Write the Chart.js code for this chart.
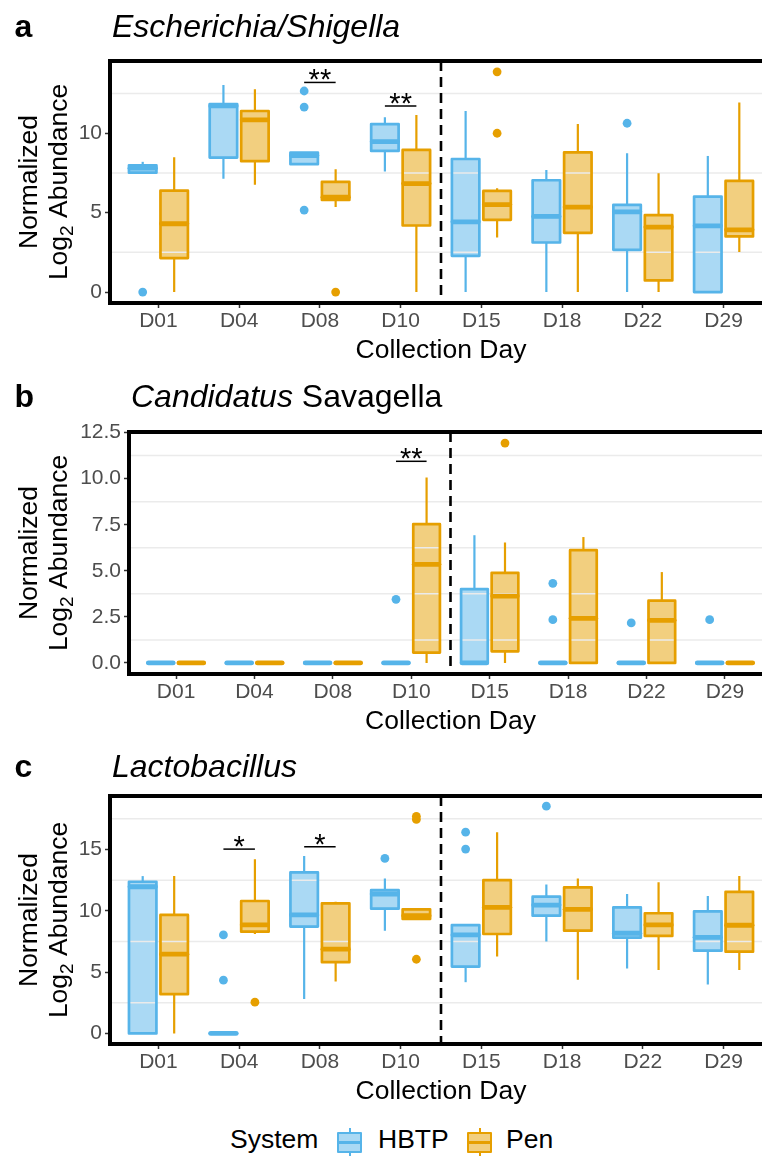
<!DOCTYPE html>
<html>
<head>
<meta charset="utf-8">
<script src="https://cdn.jsdelivr.net/npm/chart.js@4.4.1/dist/chart.umd.min.js"></script>
<style>
  body { margin: 0; background: #fff; overflow: hidden; }
  #page { position: relative; width: 762px; height: 1156px; overflow: hidden;
          font-family: "Liberation Sans", Arial, Helvetica, sans-serif; }
  #page canvas { position: absolute; left: 0; }
  .lab { position: absolute; top: 1126px; font-size: 26.5px; line-height: 26px; color: #000; white-space: nowrap; }
  .key { position: absolute; top: 1128px; width: 26px; height: 28.5px; }
  .key .whisker { position: absolute; left: 12px; top: 0; width: 2px; height: 28.5px; }
  .key .box { position: absolute; left: 0; top: 3.5px; width: 21px; height: 17px; border: 2.5px solid; border-radius: 1px; }
</style>
</head>
<body>
<div id="page">
  <canvas id="chartA" width="800" height="370" style="top:0px"></canvas>
  <canvas id="chartB" width="800" height="370" style="top:370px"></canvas>
  <canvas id="chartC" width="800" height="370" style="top:740px"></canvas>
  <div id="legend"></div>
</div>
<script>
// categories and series
const days = ["D01", "D04", "D08", "D10", "D15", "D18", "D22", "D29"];
const systems = ["HBTP", "Pen"];

// each box: [lower whisker, Q1, median, Q3, upper whisker], one per day
// a: Escherichia/Shigella
const escHBTP = [
  [7.52, 7.52, 7.8, 7.98, 8.2],
  [7.13, 8.47, 11.72, 11.84, 13.04],
  [8.05, 8.05, 8.6, 8.78, 8.78],
  [7.59, 8.89, 9.47, 10.58, 11.0],
  [0, 2.28, 4.42, 8.38, 11.4],
  [0, 3.12, 4.76, 7.04, 7.69],
  [0, 2.66, 5.05, 5.49, 8.74],
  [0, 0, 4.17, 6.01, 8.57]
];
const escPen = [
  [0, 2.14, 4.3, 6.39, 8.49],
  [6.75, 8.24, 10.84, 11.4, 12.77],
  [5.35, 5.8, 5.97, 6.94, 7.74],
  [0, 4.19, 6.83, 8.95, 11.15],
  [3.43, 4.55, 5.51, 6.37, 6.54],
  [0, 3.73, 5.35, 8.8, 10.58],
  [0, 0.73, 4.09, 4.84, 7.48],
  [2.52, 3.5, 3.92, 7.0, 11.93]
];
const escHBTPOut = [[0], [], [12.66, 11.65, 5.16], [], [], [], [10.63], []];
const escPenOut = [[], [], [0], [], [13.87, 10.0], [], [], []];
const escTicks = [0, 5, 10];
const escSigDays = ["D08", "D10"];
const escSigY = [13.2, 11.72];
const escSigText = ["**", "**"];

// b: Candidatus Savagella
const savHBTP = [
  [0, 0, 0, 0, 0],
  [0, 0, 0, 0, 0],
  [0, 0, 0, 0, 0],
  [0, 0, 0, 0, 0],
  [0, 0, 0, 4.01, 6.93],
  [0, 0, 0, 0, 0],
  [0, 0, 0, 0, 0],
  [0, 0, 0, 0, 0]
];
const savPen = [
  [0, 0, 0, 0, 0],
  [0, 0, 0, 0, 0],
  [0, 0, 0, 0, 0],
  [0, 0.56, 5.35, 7.53, 10.06],
  [0, 0.63, 3.63, 4.89, 6.54],
  [0, 0, 2.42, 6.12, 6.83],
  [0, 0, 2.31, 3.38, 4.93],
  [0, 0, 0, 0, 0]
];
const savHBTPOut = [[], [], [], [3.45], [], [4.32, 2.35], [2.17], [2.35]];
const savPenOut = [[], [], [], [], [11.93], [], [], []];
const savTicks = [0, 2.5, 5, 7.5, 10, 12.5];
const savSigDays = ["D10"];
const savSigY = [10.94];
const savSigText = ["**"];

// c: Lactobacillus
const lacHBTP = [
  [0, 0, 11.96, 12.37, 12.83],
  [0, 0, 0, 0, 0],
  [2.8, 8.71, 9.66, 13.13, 14.46],
  [8.38, 10.17, 11.37, 11.69, 12.64],
  [4.18, 5.45, 8.03, 8.84, 8.84],
  [7.49, 9.6, 10.47, 11.15, 12.15],
  [5.29, 7.81, 8.17, 10.28, 11.37],
  [3.99, 6.75, 7.84, 9.96, 11.2]
];
const lacPen = [
  [0, 3.2, 6.46, 9.66, 12.83],
  [8.11, 8.3, 8.85, 10.8, 14.21],
  [4.23, 5.81, 6.87, 10.61, 10.74],
  [9.33, 9.33, 9.6, 10.12, 10.12],
  [6.27, 8.11, 10.28, 12.5, 16.41],
  [4.37, 8.38, 10.12, 11.91, 12.64],
  [5.18, 7.95, 8.85, 9.8, 12.32],
  [5.18, 6.67, 8.82, 11.55, 12.83]
];
const lacHBTPOut = [[], [8.03, 4.34], [], [14.27], [16.41, 15.03], [18.53], [], []];
const lacPenOut = [[], [2.55], [], [17.45, 17.7, 6.05], [], [], [], []];
const lacTicks = [0, 5, 10, 15];
const lacSigDays = ["D04", "D08"];
const lacSigY = [15.03, 15.22];
const lacSigText = ["*", "*"];

// styling
const FONT = '"Liberation Sans", Arial, Helvetica, sans-serif';
const COLORS = { HBTP: "#56B4E9", Pen: "#E69F00" };
const FILLS = { HBTP: "rgba(86,180,233,0.5)", Pen: "rgba(230,159,0,0.5)" };
const KEY_FILLS = { HBTP: "#aad9f4", Pen: "#f2cf80" };
const SHIFT = 0.195;  // dodge offset of each box from the day
const HALF = 0.17;    // half box width, in x units

const panels = [
  { id: "chartA", tag: "a", title: [["Escherichia/Shigella", "italic"]], titleX: 112,
    boxes: [escHBTP, escPen], outliers: [escHBTPOut, escPenOut], ticks: escTicks, decimals: 0,
    yMin: -0.69, yMax: 14.55, sigDays: escSigDays, sigY: escSigY, sigText: escSigText,
    top: 61, axisH: 67, left: 110 },
  { id: "chartB", tag: "b", title: [["Candidatus", "italic"], [" Savagella", "normal"]], titleX: 131,
    boxes: [savHBTP, savPen], outliers: [savHBTPOut, savPenOut], ticks: savTicks, decimals: 1,
    yMin: -0.6, yMax: 12.53, sigDays: savSigDays, sigY: savSigY, sigText: savSigText,
    top: 62, axisH: 66, left: 129 },
  { id: "chartC", tag: "c", title: [["Lactobacillus", "italic"]], titleX: 112,
    boxes: [lacHBTP, lacPen], outliers: [lacHBTPOut, lacPenOut], ticks: lacTicks, decimals: 0,
    yMin: -0.86, yMax: 19.36, sigDays: lacSigDays, sigY: lacSigY, sigText: lacSigText,
    top: 56, axisH: 66, left: 110 }
];

// outlier points at the dodged x position of their box
function toPoints(out, shift) {
  const pts = [];
  out.forEach((vals, i) => vals.forEach(v => pts.push({ x: i + 1 + shift, y: v })));
  return pts;
}

// draws boxes, whiskers, grid, divider, significance bars, border and titles
function panelPlugin(panel) {
  return {
    id: "panel",
    beforeDatasetsDraw(chart) {
      const { ctx, chartArea: area, scales: { x, y } } = chart;
      ctx.save();
      const geo = [];
      chart.data.datasets.forEach(ds => ds.boxes.forEach((b, i) => {
        const c = i + 1 + ds.shift;
        geo.push({
          ds, b,
          cx: x.getPixelForValue(c),
          x0: x.getPixelForValue(c - HALF),
          x1: x.getPixelForValue(c + HALF),
          top: y.getPixelForValue(b[3]),
          bot: y.getPixelForValue(b[1])
        });
      }));
      // fills
      geo.forEach(g => {
        ctx.fillStyle = g.ds.fill;
        ctx.fillRect(g.x0, g.top, g.x1 - g.x0, g.bot - g.top);
      });
      // grid lines halfway between the ticks, on top of the fills
      const t = panel.ticks;
      const step = t[1] - t[0];
      ctx.strokeStyle = "#ebebeb";
      ctx.lineWidth = 1.5;
      t.forEach(v => {
        const gv = v + step / 2;
        if (gv > y.max) return;
        const py = y.getPixelForValue(gv);
        ctx.beginPath();
        ctx.moveTo(area.left, py);
        ctx.lineTo(area.right, py);
        ctx.stroke();
      });
      // whiskers, outlines, medians
      geo.forEach(g => {
        ctx.strokeStyle = g.ds.color;
        ctx.lineWidth = 2.2;
        ctx.lineCap = "butt";
        ctx.beginPath();
        ctx.moveTo(g.cx, y.getPixelForValue(g.b[4]));
        ctx.lineTo(g.cx, g.top);
        ctx.moveTo(g.cx, g.bot);
        ctx.lineTo(g.cx, y.getPixelForValue(g.b[0]));
        ctx.stroke();
        ctx.lineWidth = 2.7;
        ctx.lineJoin = "round";
        ctx.strokeRect(g.x0, g.top, g.x1 - g.x0, g.bot - g.top);
        const my = y.getPixelForValue(g.b[2]);
        ctx.lineWidth = 4.8;
        ctx.lineCap = "round";
        ctx.beginPath();
        ctx.moveTo(g.x0 + 1, my);
        ctx.lineTo(g.x1 - 1, my);
        ctx.stroke();
      });
      ctx.restore();
    },
    afterDatasetsDraw(chart) {
      const { ctx, chartArea: area, scales: { x, y } } = chart;
      ctx.save();
      // dashed divider between D10 and D15
      const dx = x.getPixelForValue(4.5);
      ctx.strokeStyle = "#000";
      ctx.lineWidth = 2.6;
      ctx.setLineDash([10, 6]);
      ctx.beginPath();
      ctx.moveTo(dx, area.top);
      ctx.lineTo(dx, area.bottom);
      ctx.stroke();
      ctx.setLineDash([]);
      // significance bars
      ctx.fillStyle = "#000";
      ctx.textAlign = "center";
      ctx.textBaseline = "alphabetic";
      ctx.font = "29px " + FONT;
      panel.sigDays.forEach((d, k) => {
        const c = days.indexOf(d) + 1;
        const xa = x.getPixelForValue(c - SHIFT);
        const xb = x.getPixelForValue(c + SHIFT);
        const py = y.getPixelForValue(panel.sigY[k]);
        ctx.lineWidth = 1.5;
        ctx.beginPath();
        ctx.moveTo(xa, py);
        ctx.lineTo(xb, py);
        ctx.stroke();
        ctx.fillText(panel.sigText[k], (xa + xb) / 2, py + 7);
      });
      // panel border
      ctx.lineWidth = 4;
      ctx.strokeRect(area.left, area.top, area.right - area.left, area.bottom - area.top);
      ctx.restore();
    },
    afterDraw(chart) {
      const { ctx, chartArea: area } = chart;
      ctx.save();
      ctx.fillStyle = "#000";
      ctx.textBaseline = "alphabetic";
      // tag and title
      ctx.textAlign = "left";
      ctx.font = "bold 32px " + FONT;
      ctx.fillText(panel.tag, 14.5, 37);
      let tx = panel.titleX;
      panel.title.forEach(([txt, style]) => {
        ctx.font = style + " 32px " + FONT;
        ctx.fillText(txt, tx, 37);
        tx += ctx.measureText(txt).width;
      });
      // x axis title
      ctx.textAlign = "center";
      ctx.font = "26.5px " + FONT;
      ctx.fillText("Collection Day", (area.left + area.right) / 2, area.bottom + 55);
      // y axis title, two lines
      const cy = (area.top + area.bottom) / 2;
      ctx.save();
      ctx.translate(37, cy);
      ctx.rotate(-Math.PI / 2);
      ctx.fillText("Normalized", 0, 0);
      ctx.restore();
      ctx.save();
      ctx.translate(67, cy);
      ctx.rotate(-Math.PI / 2);
      ctx.textAlign = "left";
      const big = "26.5px " + FONT, small = "19px " + FONT;
      ctx.font = big;
      const w1 = ctx.measureText("Log").width, w3 = ctx.measureText(" Abundance").width;
      ctx.font = small;
      const w2 = ctx.measureText("2").width;
      let sx = -(w1 + w2 + w3) / 2;
      ctx.font = big;
      ctx.fillText("Log", sx, 0);
      sx += w1;
      ctx.font = small;
      ctx.fillText("2", sx, 6);
      sx += w2;
      ctx.font = big;
      ctx.fillText(" Abundance", sx, 0);
      ctx.restore();
      ctx.restore();
    }
  };
}

function drawPanel(panel) {
  const datasets = systems.map((s, k) => ({
    label: s,
    boxes: panel.boxes[k],
    shift: k === 0 ? -SHIFT : SHIFT,
    color: COLORS[s],
    fill: FILLS[s],
    data: toPoints(panel.outliers[k], k === 0 ? -SHIFT : SHIFT),
    backgroundColor: COLORS[s],
    borderWidth: 0,
    pointRadius: 4.4,
    pointHoverRadius: 4.4
  }));

  const ctx = document.getElementById(panel.id).getContext("2d");
  new Chart(ctx, {
    type: "scatter",
    data: { datasets },
    options: {
      responsive: false,
      animation: false,
      devicePixelRatio: 1,
      events: [],
      layout: { padding: { left: 0, top: panel.top, right: 28, bottom: 0 } },
      plugins: { legend: { display: false }, tooltip: { enabled: false } },
      scales: {
        x: {
          type: "linear",
          min: 0.4,
          max: 8.6,
          bounds: "data",
          afterBuildTicks: scale => { scale.ticks = days.map((d, i) => ({ value: i + 1 })); },
          afterFit: scale => { scale.height = panel.axisH; },
          border: { display: false },
          grid: { drawOnChartArea: false, drawTicks: true, tickLength: 5, tickColor: "#333", tickWidth: 1.5 },
          ticks: {
            padding: 1,
            maxRotation: 0,
            autoSkip: false,
            color: "#4d4d4d",
            font: { family: FONT, size: 21 },
            callback: v => days[v - 1]
          }
        },
        y: {
          type: "linear",
          min: panel.yMin,
          max: panel.yMax,
          bounds: "data",
          afterBuildTicks: scale => { scale.ticks = panel.ticks.map(v => ({ value: v })); },
          afterFit: scale => { scale.width = panel.left; },
          border: { display: false },
          grid: { drawOnChartArea: false, drawTicks: true, tickLength: 5, tickColor: "#333", tickWidth: 1.5 },
          ticks: {
            padding: 3,
            color: "#4d4d4d",
            font: { family: FONT, size: 21 },
            callback: v => v.toFixed(panel.decimals)
          }
        }
      }
    },
    plugins: [panelPlugin(panel)]
  });
}

panels.forEach(drawPanel);

// legend
const legend = document.getElementById("legend");
const legendLayout = { title: 230, keys: [337, 466.5], labels: [378, 506] };
legend.innerHTML = '<span class="lab" style="left:' + legendLayout.title + 'px">System</span>' +
  systems.map((s, k) =>
    '<span class="key" style="left:' + legendLayout.keys[k] + 'px">' +
      '<span class="whisker" style="background:' + COLORS[s] + '"></span>' +
      '<span class="box" style="border-color:' + COLORS[s] + ';background:linear-gradient(' + COLORS[s] + ',' + COLORS[s] + ') center/100% 3px no-repeat,' + KEY_FILLS[s] + '"></span>' +
    '</span>' +
    '<span class="lab" style="left:' + legendLayout.labels[k] + 'px">' + s + '</span>'
  ).join("");
</script>
</body>
</html>
